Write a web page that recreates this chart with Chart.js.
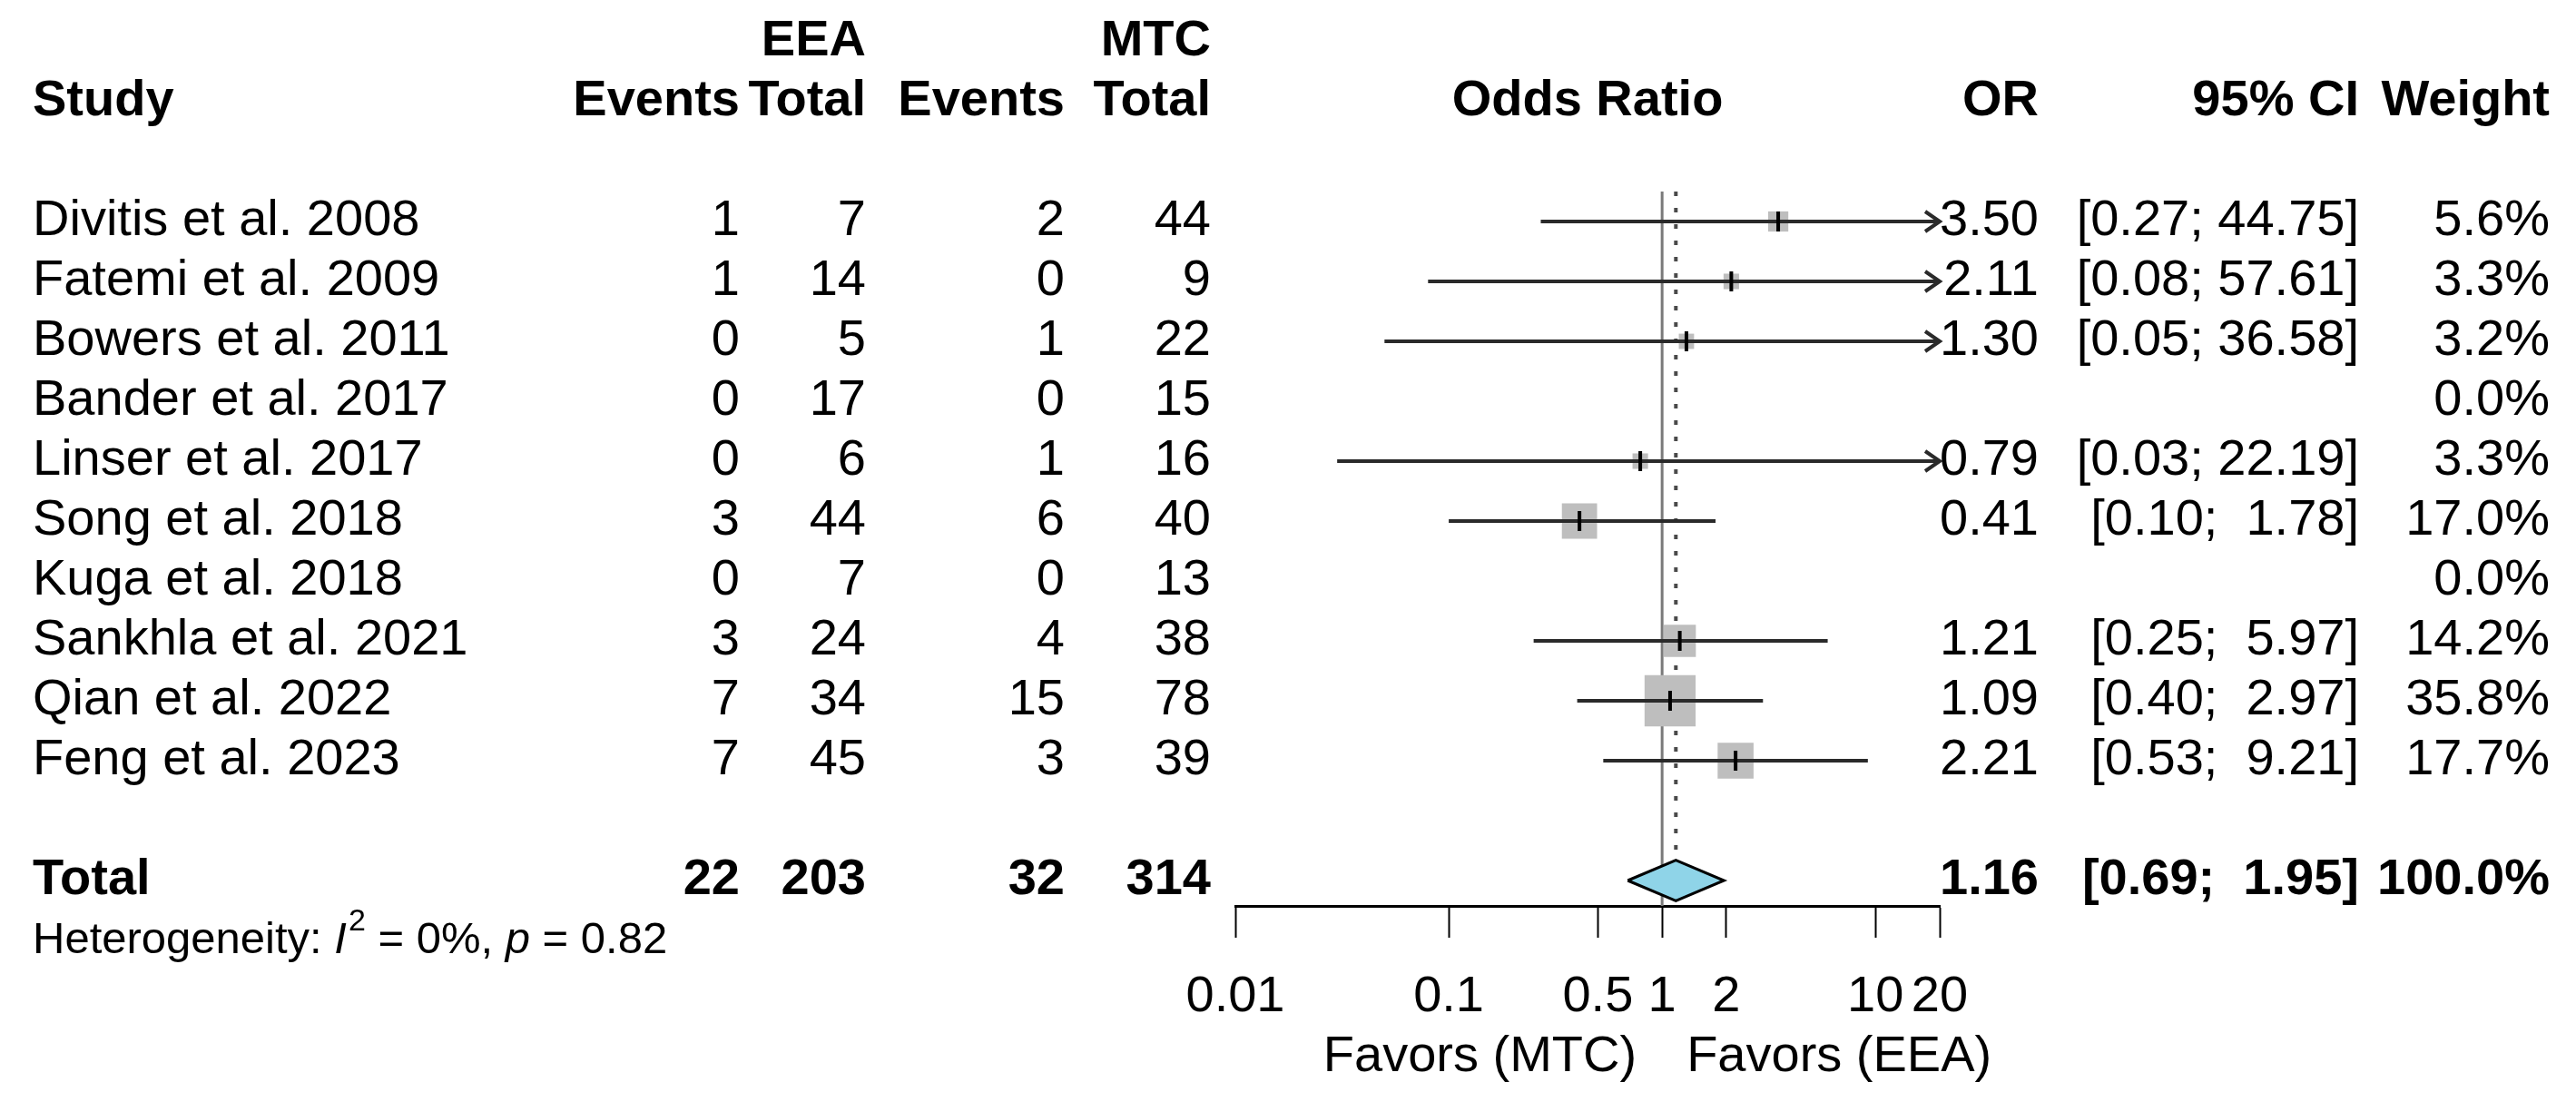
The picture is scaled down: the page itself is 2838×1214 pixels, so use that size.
<!DOCTYPE html>
<html>
<head>
<meta charset="utf-8">
<script src="https://cdn.jsdelivr.net/npm/chart.js@4.4.1/dist/chart.umd.min.js"></script>
<style>
  html, body { margin: 0; padding: 0; background: #fff; }
  #wrap { width: 2838px; height: 1214px; }
</style>
</head>
<body>
<div id="wrap"><canvas id="forest" width="2838" height="1214"></canvas></div>
<script>
// study rows
const studies = ['Divitis et al. 2008', 'Fatemi et al. 2009', 'Bowers et al. 2011', 'Bander et al. 2017',
  'Linser et al. 2017', 'Song et al. 2018', 'Kuga et al. 2018', 'Sankhla et al. 2021',
  'Qian et al. 2022', 'Feng et al. 2023'];
const eeaEvents = [1, 1, 0, 0, 0, 3, 0, 3, 7, 7];
const eeaTotal = [7, 14, 5, 17, 6, 44, 7, 24, 34, 45];
const mtcEvents = [2, 0, 1, 0, 1, 6, 0, 4, 15, 3];
const mtcTotal = [44, 9, 22, 15, 16, 40, 13, 38, 78, 39];
const orVals = [3.50, 2.11, 1.30, null, 0.79, 0.41, null, 1.21, 1.09, 2.21];
const ciLower = [0.27, 0.08, 0.05, null, 0.03, 0.10, null, 0.25, 0.40, 0.53];
const ciUpper = [44.75, 57.61, 36.58, null, 22.19, 1.78, null, 5.97, 2.97, 9.21];
const weights = [5.6, 3.3, 3.2, 0.0, 3.3, 17.0, 0.0, 14.2, 35.8, 17.7];

// pooled result
const totalCounts = [22, 203, 32, 314];
const pooled = [1.16, 0.69, 1.95];   // OR, lower, upper
const heterogeneity = { i2: '0%', p: '0.82' };

// axis
const tickVals = [0.01, 0.1, 0.5, 1, 2, 10, 20];
const tickLabels = ['0.01', '0.1', '0.5', '1', '2', '10', '20'];

// layout
const FAMILY = '"Liberation Sans", Arial, Helvetica, sans-serif';
const FS = 56;
const TOP = 211, AXIS_Y = 998, ROW_H = 66;
const yMax = 0.5 + (AXIS_Y - TOP) / ROW_H;
const TOTAL_ROW = 12, HET_ROW = 13;
const DIAMOND_H = 0.34;
const COL = { study: 36, eeaEv: 815, eeaTot: 954, mtcEv: 1173, mtcTot: 1334, or: 2246, ci: 2599, w: 2809 };

function fmtCI(lo, hi) {
  return '[' + lo.toFixed(2) + '; ' + (hi < 10 ? ' ' : '') + hi.toFixed(2) + ']';
}

function put(ctx, s, x, y, align, opt) {
  opt = opt || {};
  ctx.font = (opt.italic ? 'italic ' : '') + (opt.bold ? 'bold ' : '') + (opt.size || FS) + 'px ' + FAMILY;
  ctx.textAlign = align;
  ctx.fillText(s, x, y);
  return ctx.measureText(s).width;
}

const arrowPlugin = {
  id: 'ciArrows',
  afterDatasetsDraw(chart) {
    const { ctx, chartArea, scales: { x, y } } = chart;
    ctx.save();
    ctx.strokeStyle = '#2a2a2a';
    ctx.lineWidth = 4;
    ctx.lineJoin = 'miter';
    ciUpper.forEach((hi, i) => {
      if (hi == null || hi <= x.max) return;
      const tip = chartArea.right, py = y.getPixelForValue(i + 1);
      ctx.beginPath();
      ctx.moveTo(tip - 16, py - 11);
      ctx.lineTo(tip, py);
      ctx.lineTo(tip - 16, py + 11);
      ctx.stroke();
    });
    ctx.restore();
  }
};

const textPlugin = {
  id: 'forestText',
  afterDraw(chart) {
    const { ctx, chartArea, scales: { x, y } } = chart;
    const Y = r => y.getPixelForValue(r);
    ctx.save();
    ctx.fillStyle = '#000';
    ctx.textBaseline = 'middle';

    // headers
    const b = { bold: true };
    put(ctx, 'EEA', COL.eeaTot, Y(-2), 'right', b);
    put(ctx, 'MTC', COL.mtcTot, Y(-2), 'right', b);
    put(ctx, 'Study', COL.study, Y(-1), 'left', b);
    put(ctx, 'Events', COL.eeaEv, Y(-1), 'right', b);
    put(ctx, 'Total', COL.eeaTot, Y(-1), 'right', b);
    put(ctx, 'Events', COL.mtcEv, Y(-1), 'right', b);
    put(ctx, 'Total', COL.mtcTot, Y(-1), 'right', b);
    put(ctx, 'Odds Ratio', (chartArea.left + chartArea.right) / 2, Y(-1), 'center', b);
    put(ctx, 'OR', COL.or, Y(-1), 'right', b);
    put(ctx, '95% CI', COL.ci, Y(-1), 'right', b);
    put(ctx, 'Weight', COL.w, Y(-1), 'right', b);

    // study rows
    studies.forEach((s, i) => {
      const py = Y(i + 1);
      put(ctx, s, COL.study, py, 'left');
      put(ctx, String(eeaEvents[i]), COL.eeaEv, py, 'right');
      put(ctx, String(eeaTotal[i]), COL.eeaTot, py, 'right');
      put(ctx, String(mtcEvents[i]), COL.mtcEv, py, 'right');
      put(ctx, String(mtcTotal[i]), COL.mtcTot, py, 'right');
      if (orVals[i] != null) {
        put(ctx, orVals[i].toFixed(2), COL.or, py, 'right');
        put(ctx, fmtCI(ciLower[i], ciUpper[i]), COL.ci, py, 'right');
      }
      put(ctx, weights[i].toFixed(1) + '%', COL.w, py, 'right');
    });

    // total row
    const pt = Y(TOTAL_ROW);
    put(ctx, 'Total', COL.study, pt, 'left', b);
    put(ctx, String(totalCounts[0]), COL.eeaEv, pt, 'right', b);
    put(ctx, String(totalCounts[1]), COL.eeaTot, pt, 'right', b);
    put(ctx, String(totalCounts[2]), COL.mtcEv, pt, 'right', b);
    put(ctx, String(totalCounts[3]), COL.mtcTot, pt, 'right', b);
    put(ctx, pooled[0].toFixed(2), COL.or, pt, 'right', b);
    put(ctx, fmtCI(pooled[1], pooled[2]), COL.ci, pt, 'right', b);
    put(ctx, '100.0%', COL.w, pt, 'right', b);

    // heterogeneity line
    const hs = 49, ph = Y(HET_ROW);
    let hx = COL.study;
    hx += put(ctx, 'Heterogeneity: ', hx, ph, 'left', { size: hs });
    hx += put(ctx, 'I', hx, ph, 'left', { size: hs, italic: true }) + 2;
    hx += put(ctx, '2', hx, ph - hs * 0.42, 'left', { size: Math.round(hs * 0.7) });
    hx += put(ctx, ' = ' + heterogeneity.i2 + ', ', hx, ph, 'left', { size: hs });
    hx += put(ctx, 'p', hx, ph, 'left', { size: hs, italic: true });
    put(ctx, ' = ' + heterogeneity.p, hx, ph, 'left', { size: hs });

    // favours labels
    const x1 = x.getPixelForValue(1);
    put(ctx, 'Favors (MTC)', x1 - 28, 1165, 'right');
    put(ctx, 'Favors (EEA)', x1 + 27, 1165, 'left');
    ctx.restore();
  }
};

// datasets
const datasets = [];
datasets.push({
  data: [{ x: 1, y: 0.5 }, { x: 1, y: yMax }],
  showLine: true, borderColor: '#7a7a7a', borderWidth: 3, pointRadius: 0, order: 6
});
datasets.push({
  data: [{ x: pooled[0], y: 0.5 }, { x: pooled[0], y: TOTAL_ROW - DIAMOND_H }],
  showLine: true, borderColor: '#4a4a4a', borderWidth: 4, borderDash: [5, 13], pointRadius: 0, order: 5
});
datasets.push({
  data: orVals.map((v, i) => ({ x: v, y: i + 1 })).filter(p => p.x != null),
  showLine: false, pointStyle: 'rect', backgroundColor: '#bebebe', borderWidth: 0,
  pointRadius: weights.filter((w, i) => orVals[i] != null).map(w => 6.65 * Math.sqrt(w)),
  order: 4
});
studies.forEach((s, i) => {
  if (orVals[i] == null) return;
  datasets.push({
    data: [{ x: ciLower[i], y: i + 1 }, { x: ciUpper[i], y: i + 1 }],
    showLine: true, borderColor: '#2a2a2a', borderWidth: 4, pointRadius: 0, order: 3
  });
});
datasets.push({
  data: orVals.map((v, i) => ({ x: v, y: i + 1 })).filter(p => p.x != null),
  showLine: false, pointStyle: 'line', pointRotation: 90, pointRadius: 11,
  pointBorderWidth: 4, pointBorderColor: '#000', order: 2
});
datasets.push({
  data: [
    { x: pooled[1], y: TOTAL_ROW }, { x: pooled[0], y: TOTAL_ROW - DIAMOND_H },
    { x: pooled[2], y: TOTAL_ROW }, { x: pooled[0], y: TOTAL_ROW + DIAMOND_H },
    { x: pooled[1], y: TOTAL_ROW }
  ],
  showLine: true, fill: 'shape', backgroundColor: '#8fd4e8', borderColor: '#000',
  borderWidth: 3, borderJoinStyle: 'miter', pointRadius: 0, order: 1
});

new Chart(document.getElementById('forest'), {
  type: 'scatter',
  data: { datasets },
  options: {
    responsive: false,
    devicePixelRatio: 1,
    animation: false,
    layout: { padding: { left: 1361, right: 701, top: TOP, bottom: 0 } },
    plugins: { legend: { display: false }, tooltip: { enabled: false } },
    scales: {
      x: {
        type: 'logarithmic',
        min: 0.01,
        max: 20,
        bounds: 'data',
        afterBuildTicks: axis => { axis.ticks = tickVals.map(v => ({ value: v })); },
        afterFit: axis => { axis.height = 1214 - AXIS_Y; },
        grid: { drawOnChartArea: false, drawTicks: true, tickLength: 35, tickWidth: 2, tickColor: '#000' },
        border: { display: true, color: '#000', width: 3 },
        ticks: {
          autoSkip: false, maxRotation: 0, minRotation: 0, padding: 32,
          color: '#000', font: { family: FAMILY, size: FS },
          callback: (v, i) => tickLabels[i]
        }
      },
      y: {
        type: 'linear', reverse: true, min: 0.5, max: yMax, display: false
      }
    }
  },
  plugins: [arrowPlugin, textPlugin]
});
</script>
</body>
</html>
